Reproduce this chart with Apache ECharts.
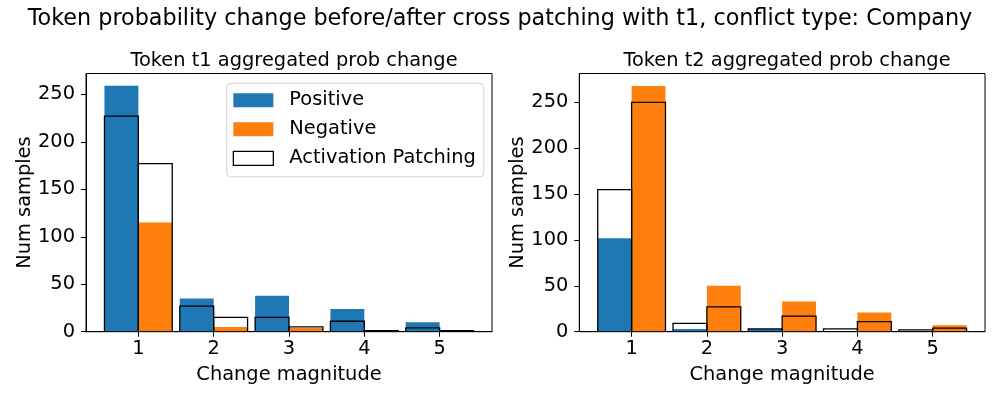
<!DOCTYPE html>
<html>
<head>
<meta charset="utf-8">
<script src="https://cdn.jsdelivr.net/npm/echarts@6/dist/echarts.min.js"></script>
<style>
  html, body { margin: 0; padding: 0; background: #fff; }
  #chart { width: 1000px; height: 400px; }
</style>
</head>
<body>
<div id="chart"></div>
<script>
// ---- data ----
const categories = [1, 2, 3, 4, 5];
const yTicks = [0, 50, 100, 150, 200, 250];

const t1Positive = [259, 35, 38, 24, 10];
const t1Negative = [115, 5, 4, 0, 0];
const t1PatchPositive = [227, 27, 15, 11, 4];
const t1PatchNegative = [177, 15, 5, 1, 1];

const t2Positive = [102, 3, 3, 0, 0];
const t2Negative = [268, 50, 33, 21, 7];
const t2PatchPositive = [155, 9, 3, 3, 2];
const t2PatchNegative = [250, 27, 17, 11, 4];

const mainTitle = 'Token probability change before/after cross patching with t1, conflict type: Company';
const subTitles = ['Token t1 aggregated prob change', 'Token t2 aggregated prob change'];
const xLabel = 'Change magnitude';
const yLabel = 'Num samples';

// ---- styling ----
const FONT = 'DejaVu Sans';
const BLUE = '#1f77b4';
const ORANGE = '#ff7f0e';
const BAR_W = 0.45;

function pairs(vals) { return categories.map((c, i) => [c, vals[i]]); }

function barRenderer(x0, x1, style) {
  return function (params, api) {
    const x = api.value(0), v = api.value(1);
    const p0 = api.coord([x + x0, v]);
    const p1 = api.coord([x + x1, 0]);
    return {
      type: 'rect',
      shape: { x: p0[0], y: p0[1], width: p1[0] - p0[0], height: p1[1] - p0[1] },
      style: style
    };
  };
}

function makeSeries(gi, pos, neg, patchPos, patchNeg) {
  return [
    { name: 'Positive', type: 'custom', xAxisIndex: gi, yAxisIndex: gi, clip: true,
      itemStyle: { color: BLUE },
      encode: { x: 0, y: 1 }, data: pairs(pos),
      renderItem: barRenderer(-BAR_W, 0, { fill: BLUE }) },
    { name: 'Negative', type: 'custom', xAxisIndex: gi, yAxisIndex: gi, clip: true,
      itemStyle: { color: ORANGE },
      encode: { x: 0, y: 1 }, data: pairs(neg),
      renderItem: barRenderer(0, BAR_W, { fill: ORANGE }) },
    { name: 'Activation Patching', type: 'custom', xAxisIndex: gi, yAxisIndex: gi, clip: true,
      itemStyle: { color: '#fff', borderColor: '#000' },
      encode: { x: 0, y: 1 }, data: pairs(patchPos),
      renderItem: barRenderer(-BAR_W, 0, { fill: 'none', stroke: '#000', lineWidth: 1.3 }) },
    { name: 'Activation Patching', type: 'custom', xAxisIndex: gi, yAxisIndex: gi, clip: true,
      itemStyle: { color: '#fff', borderColor: '#000' },
      encode: { x: 0, y: 1 }, data: pairs(patchNeg),
      renderItem: barRenderer(0, BAR_W, { fill: 'none', stroke: '#000', lineWidth: 1.3 }) }
  ];
}

function xAxis(gi) {
  return {
    type: 'value', gridIndex: gi, min: 0.305, max: 5.695,
    name: xLabel, nameLocation: 'middle', nameGap: 34,
    nameTextStyle: { fontFamily: FONT, fontSize: 19.4, color: '#000' },
    axisLine: { show: true, lineStyle: { color: '#000', width: 1 } },
    axisTick: { show: true, length: 5, lineStyle: { color: '#000' }, customValues: categories },
    axisLabel: { fontFamily: FONT, fontSize: 19.4, color: '#000', margin: 8, customValues: categories },
    splitLine: { show: false }
  };
}

function yAxis(gi, max) {
  return {
    type: 'value', gridIndex: gi, min: 0, max: max,
    name: yLabel, nameLocation: 'middle', nameGap: 52, nameRotate: 90,
    nameTextStyle: { fontFamily: FONT, fontSize: 19.4, color: '#000' },
    axisLine: { show: true, lineStyle: { color: '#000', width: 1 } },
    axisTick: { show: true, length: 5, lineStyle: { color: '#000' }, customValues: yTicks },
    axisLabel: { fontFamily: FONT, fontSize: 19.4, color: '#000', margin: 11, customValues: yTicks },
    splitLine: { show: false }
  };
}

const chart = echarts.init(document.getElementById('chart'), null, { renderer: 'canvas' });
chart.setOption({
  animation: false,
  backgroundColor: '#fff',
  title: [
    { text: mainTitle, left: 'center', top: 3,
      textStyle: { fontFamily: FONT, fontSize: 22.3, fontWeight: 'normal', color: '#000' } },
    { text: subTitles[0], left: 289, top: 46, textAlign: 'center',
      textStyle: { fontFamily: FONT, fontSize: 19.4, fontWeight: 'normal', color: '#000' } },
    { text: subTitles[1], left: 782, top: 46, textAlign: 'center',
      textStyle: { fontFamily: FONT, fontSize: 19.4, fontWeight: 'normal', color: '#000' } }
  ],
  legend: {
    show: true, orient: 'vertical', left: 226.7, top: 83.3,
    itemWidth: 40, itemHeight: 14, itemGap: 10,
    padding: [7.5, 8, 9, 6],
    backgroundColor: 'rgba(255,255,255,0.8)', borderColor: '#d0d0d0', borderWidth: 1, borderRadius: 4,
    textStyle: { fontFamily: FONT, fontSize: 19.4, color: '#000', padding: [0, 0, 0, 11] },
    data: [
      { name: 'Positive', icon: 'rect', itemStyle: { color: BLUE } },
      { name: 'Negative', icon: 'rect', itemStyle: { color: ORANGE } },
      { name: 'Activation Patching', icon: 'rect', itemStyle: { color: '#fff', borderColor: '#000', borderWidth: 1.3 } }
    ]
  },
  grid: [
    { left: 86, right: 508, top: 73.5, bottom: 68.3, show: true, borderColor: '#000', borderWidth: 1, backgroundColor: 'transparent', containLabel: false },
    { left: 579.3, right: 15, top: 73.5, bottom: 68.3, show: true, borderColor: '#000', borderWidth: 1, backgroundColor: 'transparent', containLabel: false }
  ],
  xAxis: [xAxis(0), xAxis(1)],
  yAxis: [yAxis(0, 272), yAxis(1, 281.5)],
  series: [].concat(
    makeSeries(0, t1Positive, t1Negative, t1PatchPositive, t1PatchNegative),
    makeSeries(1, t2Positive, t2Negative, t2PatchPositive, t2PatchNegative)
  )
});
</script>
</body>
</html>
